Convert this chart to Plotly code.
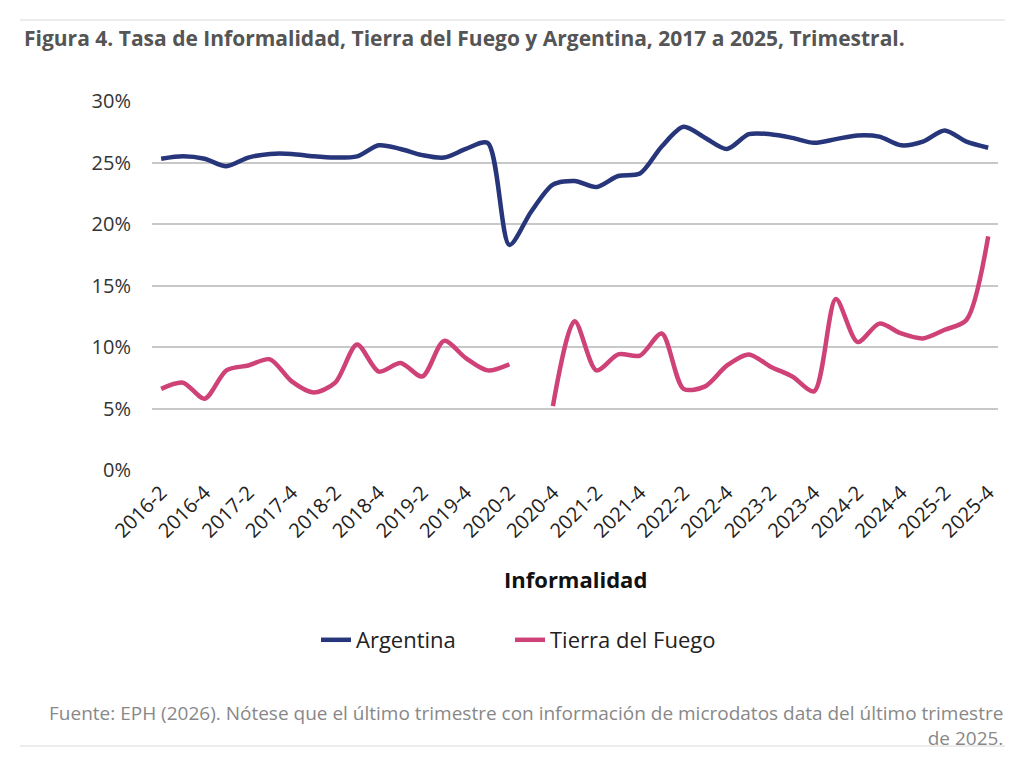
import plotly.graph_objects as go

quarters = [f"{y}-{q}" for y in range(2016, 2026) for q in range(1, 5)][1:]  # 2016-2 .. 2025-4

argentina = [25.3, 25.5, 25.3, 24.7, 25.4, 25.7, 25.7, 25.5, 25.4, 25.5,
             26.4, 26.1, 25.6, 25.4, 26.1, 26.6, 18.3, 21.0, 23.2, 23.5,
             23.0, 23.9, 24.1, 26.3, 27.9, 27.0, 26.1, 27.3, 27.3, 27.0,
             26.6, 26.9, 27.2, 27.1, 26.4, 26.7, 27.6, 26.7, 26.2]

tierra_del_fuego = [6.6, 7.1, 5.8, 8.1, 8.5, 9.0, 7.2, 6.3, 7.1, 10.2,
                    8.0, 8.7, 7.6, 10.5, 9.1, 8.1, 8.6, None, 5.2, 12.1,
                    8.1, 9.4, 9.3, 11.1, 6.6, 6.8, 8.5, 9.4, 8.4, 7.6,
                    6.4, 13.9, 10.4, 11.9, 11.1, 10.7, 11.4, 12.2, 19.0]

tick_labels = quarters[::2]
y_ticks = [0, 5, 10, 15, 20, 25, 30]

title_text = "Figura 4. Tasa de Informalidad, Tierra del Fuego y Argentina, 2017 a 2025, Trimestral."
xtitle_text = "Informalidad"
note_text = ("Fuente: EPH (2026). Nótese que el último trimestre con información de microdatos data del último trimestre"
             "<br>de 2025.")

FONT = "Open Sans"
OFF = 8  # page body margin
W, H = 1024 - OFF, 766 - OFF
L, R, T, B = 152 - OFF, 998 - OFF, 101 - OFF, 470 - OFF

def px(X):
    return (X - OFF - L) / (R - L)

def py(Y):
    return (B - (Y - OFF)) / (B - T)

fig = go.Figure()
fig.add_trace(go.Scatter(x=quarters, y=argentina, name="Argentina", mode="lines", legend="legend",
                         line=dict(color="#27367A", width=4.5, shape="spline", smoothing=0.8)))
fig.add_trace(go.Scatter(x=quarters, y=tierra_del_fuego, name="Tierra del Fuego", mode="lines",
                         connectgaps=False, legend="legend2",
                         line=dict(color="#CF4277", width=4.5, shape="spline", smoothing=0.8)))

legend_common = dict(orientation="h", yanchor="middle", xanchor="left",
                     font=dict(size=22, color="#222"), bgcolor="rgba(0,0,0,0)")

fig.update_layout(
    width=W, height=H,
    margin=dict(l=L, r=W - R, t=T, b=H - B),
    paper_bgcolor="white", plot_bgcolor="white",
    font=dict(family=FONT, color="#333"),
    showlegend=True,
    legend=dict(x=px(316), y=py(640), **legend_common),
    legend2=dict(x=px(510), y=py(640), **legend_common),
    xaxis=dict(type="category", categoryorder="array", categoryarray=quarters,
               range=[-0.42, 38.45], tickmode="array", tickvals=tick_labels, ticktext=tick_labels,
               tickangle=-45, tickfont=dict(size=20, color="#222"), showgrid=False,
               zeroline=False, showline=False, ticks="", ticklabelstandoff=6),
    yaxis=dict(range=[0, 30], tickmode="array", tickvals=y_ticks,
               ticktext=[f"{v}%" for v in y_ticks], tickfont=dict(size=20, color="#333"),
               showgrid=True, gridcolor="#c8c8c8", gridwidth=1.5, zeroline=False,
               showline=False, ticks="", ticklabelstandoff=20),
    shapes=[
        dict(type="line", xref="paper", yref="paper", x0=px(20), x1=px(1005), y0=py(20), y1=py(20),
             line=dict(color="#e6e6e6", width=1.5)),
        dict(type="line", xref="paper", yref="paper", x0=px(20), x1=px(1005), y0=py(746), y1=py(746),
             line=dict(color="#e6e6e6", width=1.5)),
    ],
    annotations=[
        dict(text=f"<b>{title_text}</b>", xref="paper", yref="paper", x=px(22), y=py(38),
             xanchor="left", yanchor="middle", showarrow=False,
             font=dict(size=21, color="#555", family=FONT)),
        dict(text=f"<b>{xtitle_text}</b>", xref="paper", yref="paper", x=px(575), y=py(579),
             xanchor="center", yanchor="middle", showarrow=False,
             font=dict(size=22, color="#111", family=FONT)),
        dict(text=note_text, xref="paper", yref="paper", x=px(1005), y=py(725),
             xanchor="right", yanchor="middle", align="right", showarrow=False,
             font=dict(size=19, color="#888", family=FONT)),
    ],
)

fig.write_html("out.html")
